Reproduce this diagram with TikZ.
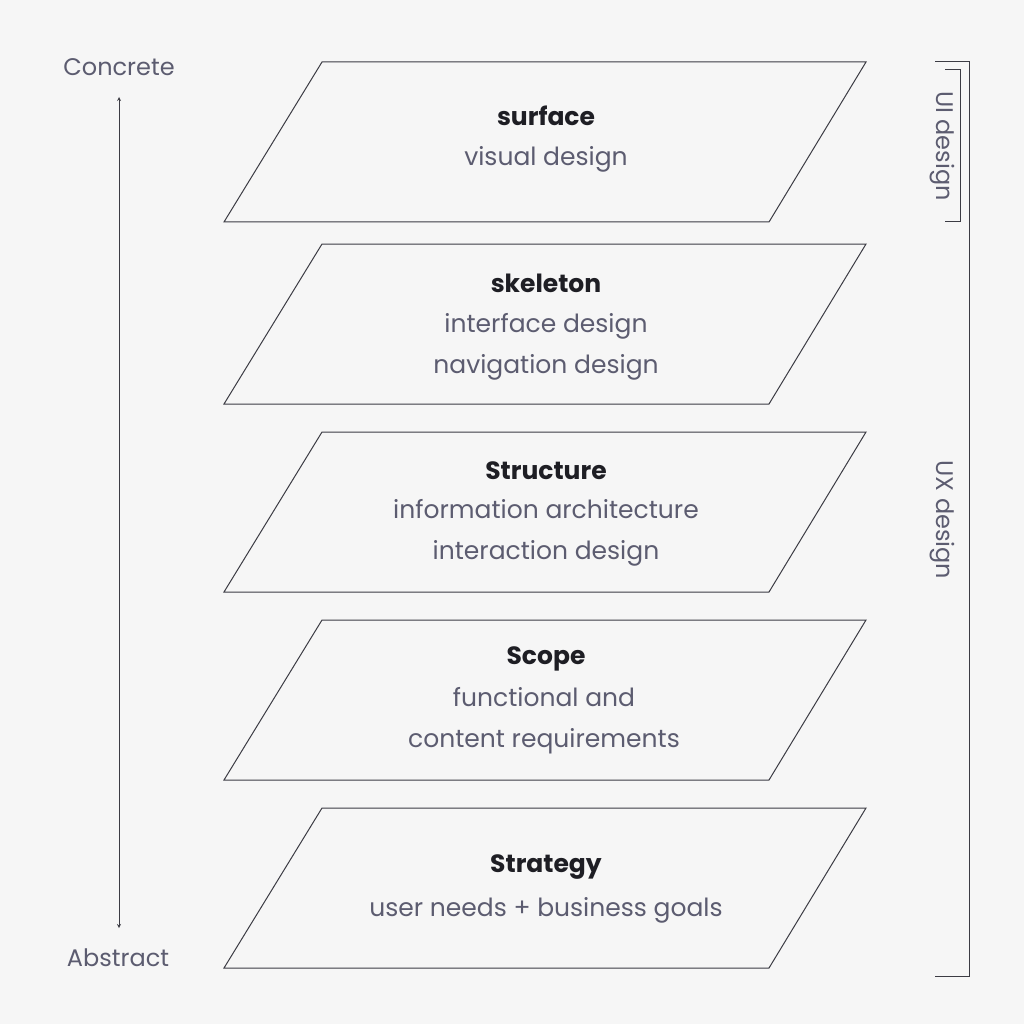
\documentclass[tikz,border=0pt]{standalone}
\usepackage{fontspec}
\setmainfont{Poppins}
\definecolor{bg}{HTML}{F6F6F6}
\definecolor{ink}{HTML}{3C3C44}
\definecolor{sub}{HTML}{5C5C70}
\definecolor{title}{HTML}{1E1E24}
\tikzset{
  plane/.style={draw=ink, line width=1pt},
  head/.style={font=\fontsize{25}{30}\selectfont\bfseries, text=title},
  desc/.style={font=\fontsize{25}{41}\selectfont, text=sub, align=center},
  side/.style={font=\fontsize{24}{28}\selectfont, text=sub},
  brace/.style={draw=ink, line width=1pt}
}
\begin{document}
\begin{tikzpicture}[x=1pt,y=-1pt]
\fill[bg] (0,0) rectangle (1024,1024);
\useasboundingbox (0,0) rectangle (1024,1024);
% layers
\foreach \t in {62,244,432,620,808}
  \draw[plane] (322,\t) -- (866,\t) -- (769,\t+160) -- (224,\t+160) -- cycle;
\node[head] (surface) at (546,116) {surface};
\node[desc] (surfacetxt) at (546,159) {visual design};
\node[head] (skeleton) at (546,283) {skeleton};
\node[desc] (skeletontxt) at (546,347) {interface design\\navigation design};
\node[head] (structure) at (546,471) {Structure};
\node[desc] (structuretxt) at (546,533) {information architecture\\interaction design};
\node[head] (scope) at (546,659) {Scope};
\node[desc] (scopetxt) at (544,721) {functional and\\content requirements};
\node[head] (strategy) at (546,867) {Strategy};
\node[desc] (strategytxt) at (546,910) {user needs + business goals};
% concrete / abstract axis
\node[side] (concrete) at (119,67) {Concrete};
\node[side] (abstract) at (118,958) {Abstract};
\draw[ink, line width=0.8pt, <->, >=stealth] (119,97) -- (119,928);
% brackets
\draw[brace] (945,70) -- (960,70) -- (960,222) -- (945,222);
\draw[brace] (935,62) -- (969,62) -- (969,976) -- (935,976);
\node[side, rotate=-90] (ui) at (942,146) {UI design};
\node[side, rotate=-90] (ux) at (942,520) {UX design};
\end{tikzpicture}
\end{document}
